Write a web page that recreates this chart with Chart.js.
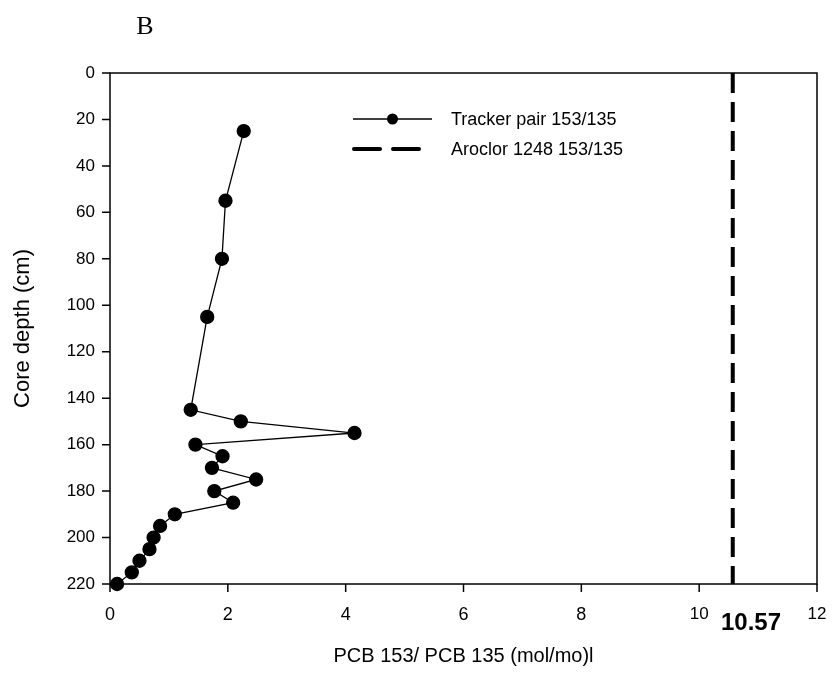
<!DOCTYPE html>
<html>
<head>
<meta charset="utf-8">
<script src="https://cdn.jsdelivr.net/npm/chart.js@4"></script>
<style>
  html, body { margin: 0; padding: 0; background: #fff; }
  #wrap { width: 833px; height: 676px; }
</style>
</head>
<body>
<div id="wrap"><canvas id="depthChart" width="833" height="676"></canvas></div>
<script>
// core depth (cm) and measured ratio
const depths = [25, 55, 80, 105, 145, 150, 155, 160, 165, 170, 175, 180, 185, 190, 195, 200, 205, 210, 215, 220];
const ratios = [2.27, 1.96, 1.90, 1.65, 1.37, 2.22, 4.15, 1.45, 1.91, 1.73, 2.48, 1.77, 2.09, 1.10, 0.85, 0.74, 0.67, 0.50, 0.37, 0.12];
const aroclorRatio = 10.57;
const depthRange = [0, 220];
const seriesNames = ["Tracker pair 153/135", "Aroclor 1248 153/135"];

const trackerPoints = depths.map((d, i) => ({ x: ratios[i], y: d }));
const aroclorPoints = depthRange.map(d => ({ x: aroclorRatio, y: d }));

const FONT = "'Liberation Sans', Arial, sans-serif";

const extras = {
  id: "extras",
  afterDraw(chart) {
    const ctx = chart.ctx;
    const a = chart.chartArea;
    const xs = chart.scales.x, ys = chart.scales.y;
    ctx.save();
    // frame + outside ticks
    ctx.strokeStyle = "#000";
    ctx.lineWidth = 1.5;
    ctx.strokeRect(a.left, a.top, a.right - a.left, a.bottom - a.top);
    ctx.beginPath();
    xs.ticks.forEach(t => {
      const px = xs.getPixelForValue(t.value);
      ctx.moveTo(px, a.bottom); ctx.lineTo(px, a.bottom + 8);
    });
    ys.ticks.forEach(t => {
      const py = ys.getPixelForValue(t.value);
      ctx.moveTo(a.left - 8, py); ctx.lineTo(a.left, py);
    });
    ctx.stroke();

    // panel letter
    ctx.fillStyle = "#000";
    ctx.font = "26px 'Liberation Serif', 'Times New Roman', serif";
    ctx.textAlign = "center";
    ctx.textBaseline = "middle";
    ctx.fillText("B", 145, 27);

    // aroclor value under the axis
    ctx.font = "bold 24px " + FONT;
    ctx.fillText(aroclorRatio.toFixed(2), 751, 623);

    // legend
    const lx1 = 353, lx2 = 432, tx = 451;
    ctx.font = "18px " + FONT;
    ctx.textAlign = "left";
    ctx.lineWidth = 1.3;
    ctx.beginPath();
    ctx.moveTo(lx1, 119); ctx.lineTo(lx2, 119);
    ctx.stroke();
    ctx.beginPath();
    ctx.arc((lx1 + lx2) / 2, 119, 5.5, 0, Math.PI * 2);
    ctx.fill();
    ctx.fillText(seriesNames[0], tx, 120);

    ctx.lineWidth = 4;
    ctx.lineCap = "round";
    ctx.beginPath();
    ctx.moveTo(354, 149); ctx.lineTo(380, 149);
    ctx.moveTo(393, 149); ctx.lineTo(419, 149);
    ctx.stroke();
    ctx.fillText(seriesNames[1], tx, 150);
    ctx.restore();
  }
};

new Chart(document.getElementById("depthChart"), {
  type: "scatter",
  data: {
    datasets: [
      {
        label: seriesNames[0],
        data: trackerPoints,
        showLine: true,
        clip: false,
        borderColor: "#000",
        backgroundColor: "#000",
        borderWidth: 1.3,
        pointRadius: 6.5,
        pointHoverRadius: 6.5,
        tension: 0
      },
      {
        label: seriesNames[1],
        data: aroclorPoints,
        showLine: true,
        borderColor: "#000",
        borderWidth: 4,
        borderDash: [20, 9],
        pointRadius: 0
      }
    ]
  },
  options: {
    responsive: false,
    animation: false,
    layout: { padding: { top: 73, right: 16, bottom: 8, left: 0 } },
    plugins: {
      legend: { display: false },
      tooltip: { enabled: false }
    },
    scales: {
      x: {
        type: "linear",
        min: 0,
        max: 12,
        ticks: {
          stepSize: 2,
          color: "#000",
          padding: 12,
          maxRotation: 0,
          font: c => ({ family: FONT, size: c.tick && c.tick.value >= 10 ? 17 : 18 })
        },
        grid: { display: false },
        border: { display: false },
        title: { display: true, text: "PCB 153/ PCB 135 (mol/mo)l", color: "#000", font: { family: FONT, size: 20 }, padding: 0 },
        afterFit(s) { s.height = 84; s.paddingLeft = 0; s.paddingRight = 0; }
      },
      y: {
        type: "linear",
        reverse: true,
        min: 0,
        max: 220,
        ticks: { stepSize: 20, color: "#000", font: { family: FONT, size: 17 }, padding: 7 },
        grid: { display: false },
        border: { display: false },
        title: { display: true, text: "Core depth (cm)", color: "#000", font: { family: FONT, size: 22 }, padding: { top: 10, bottom: 0 } },
        afterFit(s) { s.width = 110; s.paddingTop = 0; s.paddingBottom = 0; }
      }
    }
  },
  plugins: [extras]
});
</script>
</body>
</html>
